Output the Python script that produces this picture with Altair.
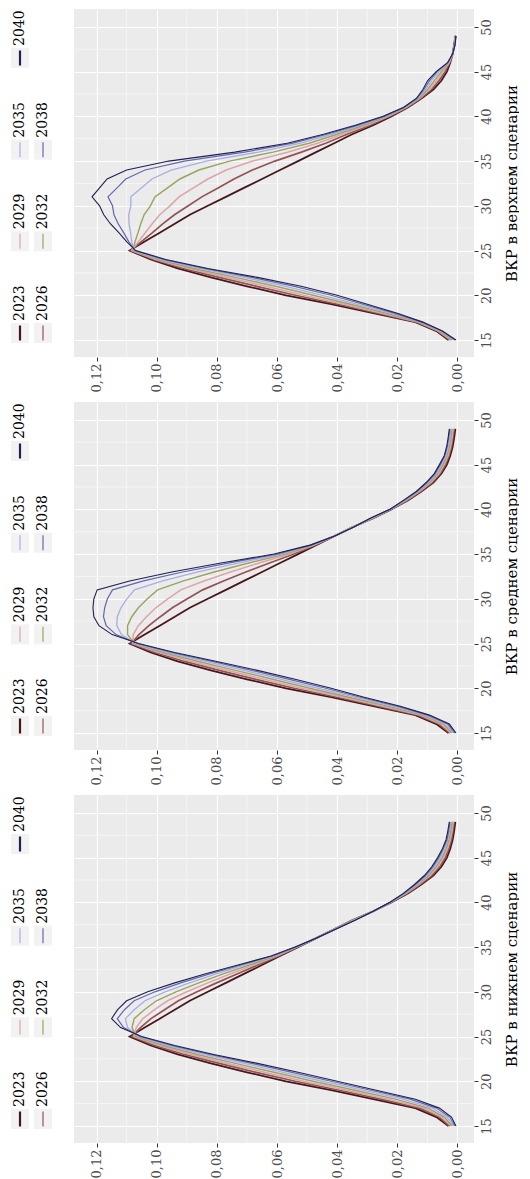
import altair as alt
import pandas as pd

AGES = list(range(15, 50))
YEARS = ["2023", "2026", "2029", "2032", "2035", "2038", "2040"]

BASE_2023 = [0.003, 0.007, 0.014, 0.028, 0.042, 0.057, 0.070, 0.082, 0.093, 0.102, 0.109,
             0.104, 0.099, 0.094, 0.089, 0.083, 0.077, 0.071, 0.065, 0.059, 0.053, 0.047,
             0.041, 0.035, 0.028, 0.022, 0.0165, 0.012, 0.008, 0.0053, 0.0035, 0.0024,
             0.0016, 0.0011, 0.0007]

UP_2026 = [0.0026, 0.0066, 0.0136, 0.0266, 0.0398, 0.0539, 0.0668, 0.0792, 0.0912, 0.1011, 0.1086, 0.1051, 0.1014, 0.0979, 0.0941, 0.0895, 0.0850, 0.0796, 0.0743, 0.0682, 0.0607, 0.0519, 0.0438, 0.0367, 0.0291, 0.0225, 0.0168, 0.0123, 0.0086, 0.0061, 0.0041, 0.0026, 0.0016, 0.0010, 0.0007]
UP_2029 = [0.0021, 0.0063, 0.0131, 0.0252, 0.0378, 0.0511, 0.0637, 0.0766, 0.0895, 0.1003, 0.1083, 0.1061, 0.1038, 0.1015, 0.0990, 0.0956, 0.0926, 0.0878, 0.0830, 0.0769, 0.0681, 0.0565, 0.0465, 0.0383, 0.0301, 0.0229, 0.0170, 0.0126, 0.0092, 0.0069, 0.0048, 0.0027, 0.0016, 0.0010, 0.0006]
UP_2032 = [0.0017, 0.0059, 0.0127, 0.0238, 0.0356, 0.0480, 0.0605, 0.0738, 0.0877, 0.0994, 0.1079, 0.1072, 0.1062, 0.1053, 0.1042, 0.1021, 0.1006, 0.0964, 0.0923, 0.0860, 0.0758, 0.0613, 0.0493, 0.0400, 0.0312, 0.0234, 0.0173, 0.0129, 0.0099, 0.0077, 0.0054, 0.0029, 0.0016, 0.0009, 0.0006]
UP_2035 = [0.0012, 0.0056, 0.0122, 0.0223, 0.0335, 0.0449, 0.0572, 0.0710, 0.0859, 0.0985, 0.1076, 0.1083, 0.1087, 0.1092, 0.1093, 0.1086, 0.1086, 0.1051, 0.1016, 0.0952, 0.0835, 0.0662, 0.0521, 0.0417, 0.0323, 0.0239, 0.0176, 0.0132, 0.0105, 0.0086, 0.0061, 0.0030, 0.0016, 0.0009, 0.0006]
UP_2038 = [0.0008, 0.0052, 0.0118, 0.0210, 0.0314, 0.0420, 0.0542, 0.0684, 0.0842, 0.0976, 0.1072, 0.1093, 0.1110, 0.1128, 0.1142, 0.1147, 0.1162, 0.1132, 0.1103, 0.1039, 0.0908, 0.0708, 0.0547, 0.0434, 0.0333, 0.0244, 0.0178, 0.0135, 0.0111, 0.0093, 0.0067, 0.0032, 0.0016, 0.0008, 0.0005]
UP_2040 = [0.0005, 0.0050, 0.0115, 0.0200, 0.0300, 0.0400, 0.0520, 0.0665, 0.0830, 0.0970, 0.1070, 0.1100, 0.1126, 0.1154, 0.1176, 0.1190, 0.1215, 0.1190, 0.1165, 0.1100, 0.0960, 0.0740, 0.0566, 0.0445, 0.0340, 0.0247, 0.0180, 0.0137, 0.0115, 0.0099, 0.0071, 0.0033, 0.0016, 0.0008, 0.0005]

MID_2026 = [0.0026, 0.0062, 0.0132, 0.0264, 0.0400, 0.0543, 0.0671, 0.0792, 0.0907, 0.1006, 0.1085, 0.1059, 0.1026, 0.0988, 0.0948, 0.0898, 0.0847, 0.0778, 0.0704, 0.0625, 0.0544, 0.0474, 0.0410, 0.0349, 0.0282, 0.0221, 0.0168, 0.0123, 0.0084, 0.0057, 0.0040, 0.0028, 0.0020, 0.0015, 0.0011]
MID_2029 = [0.0021, 0.0055, 0.0124, 0.0249, 0.0382, 0.0518, 0.0644, 0.0766, 0.0885, 0.0992, 0.1080, 0.1078, 0.1061, 0.1034, 0.1003, 0.0963, 0.0920, 0.0843, 0.0755, 0.0659, 0.0558, 0.0477, 0.0410, 0.0349, 0.0284, 0.0222, 0.0170, 0.0126, 0.0088, 0.0061, 0.0044, 0.0031, 0.0023, 0.0018, 0.0014]
MID_2032 = [0.0017, 0.0047, 0.0115, 0.0232, 0.0362, 0.0491, 0.0615, 0.0738, 0.0861, 0.0978, 0.1074, 0.1097, 0.1097, 0.1083, 0.1061, 0.1031, 0.0997, 0.0911, 0.0809, 0.0694, 0.0572, 0.0481, 0.0410, 0.0348, 0.0285, 0.0223, 0.0173, 0.0129, 0.0093, 0.0066, 0.0048, 0.0035, 0.0027, 0.0022, 0.0018]
MID_2035 = [0.0012, 0.0039, 0.0107, 0.0216, 0.0342, 0.0464, 0.0586, 0.0710, 0.0838, 0.0963, 0.1069, 0.1117, 0.1133, 0.1131, 0.1119, 0.1099, 0.1074, 0.0980, 0.0863, 0.0729, 0.0587, 0.0484, 0.0410, 0.0347, 0.0287, 0.0224, 0.0176, 0.0132, 0.0097, 0.0070, 0.0053, 0.0038, 0.0030, 0.0025, 0.0021]
MID_2038 = [0.0008, 0.0032, 0.0099, 0.0201, 0.0323, 0.0438, 0.0559, 0.0684, 0.0816, 0.0950, 0.1064, 0.1135, 0.1168, 0.1177, 0.1173, 0.1164, 0.1147, 0.1044, 0.0914, 0.0762, 0.0600, 0.0488, 0.0410, 0.0346, 0.0289, 0.0224, 0.0178, 0.0135, 0.0101, 0.0074, 0.0057, 0.0042, 0.0034, 0.0029, 0.0025]
MID_2040 = [0.0005, 0.0027, 0.0093, 0.0190, 0.0310, 0.0420, 0.0540, 0.0665, 0.0800, 0.0940, 0.1060, 0.1148, 0.1192, 0.1209, 0.1212, 0.1209, 0.1198, 0.1090, 0.0950, 0.0786, 0.0610, 0.0490, 0.0410, 0.0346, 0.0290, 0.0225, 0.0180, 0.0137, 0.0104, 0.0077, 0.0060, 0.0044, 0.0036, 0.0031, 0.0027]

LOW_2026 = [0.0026, 0.0061, 0.0126, 0.0255, 0.0393, 0.0539, 0.0669, 0.0792, 0.0908, 0.1006, 0.1083, 0.1054, 0.1019, 0.0974, 0.0928, 0.0866, 0.0801, 0.0733, 0.0664, 0.0595, 0.0532, 0.0470, 0.0409, 0.0348, 0.0280, 0.0221, 0.0168, 0.0124, 0.0085, 0.0059, 0.0041, 0.0029, 0.0020, 0.0015, 0.0011]
LOW_2029 = [0.0021, 0.0053, 0.0112, 0.0231, 0.0368, 0.0511, 0.0641, 0.0766, 0.0888, 0.0992, 0.1076, 0.1068, 0.1046, 0.1007, 0.0964, 0.0900, 0.0830, 0.0756, 0.0678, 0.0601, 0.0534, 0.0470, 0.0408, 0.0347, 0.0280, 0.0222, 0.0170, 0.0128, 0.0091, 0.0064, 0.0046, 0.0033, 0.0024, 0.0018, 0.0014]
LOW_2032 = [0.0017, 0.0044, 0.0098, 0.0206, 0.0341, 0.0480, 0.0610, 0.0738, 0.0866, 0.0978, 0.1069, 0.1082, 0.1075, 0.1041, 0.1001, 0.0936, 0.0860, 0.0779, 0.0692, 0.0606, 0.0535, 0.0470, 0.0407, 0.0345, 0.0280, 0.0223, 0.0173, 0.0132, 0.0096, 0.0070, 0.0051, 0.0038, 0.0028, 0.0022, 0.0018]
LOW_2035 = [0.0012, 0.0035, 0.0083, 0.0181, 0.0314, 0.0449, 0.0579, 0.0710, 0.0845, 0.0963, 0.1062, 0.1097, 0.1104, 0.1075, 0.1039, 0.0972, 0.0891, 0.0802, 0.0707, 0.0611, 0.0537, 0.0470, 0.0406, 0.0343, 0.0280, 0.0224, 0.0176, 0.0136, 0.0101, 0.0076, 0.0057, 0.0042, 0.0032, 0.0026, 0.0021]
LOW_2038 = [0.0008, 0.0026, 0.0070, 0.0157, 0.0288, 0.0420, 0.0550, 0.0684, 0.0824, 0.0950, 0.1055, 0.1110, 0.1131, 0.1107, 0.1075, 0.1006, 0.0920, 0.0824, 0.0720, 0.0616, 0.0539, 0.0470, 0.0406, 0.0341, 0.0280, 0.0224, 0.0178, 0.0140, 0.0106, 0.0081, 0.0062, 0.0047, 0.0035, 0.0029, 0.0025]
LOW_2040 = [0.0005, 0.0020, 0.0060, 0.0140, 0.0270, 0.0400, 0.0530, 0.0665, 0.0810, 0.0940, 0.1050, 0.1120, 0.1150, 0.1130, 0.1100, 0.1030, 0.0940, 0.0840, 0.0730, 0.0620, 0.0540, 0.0470, 0.0405, 0.0340, 0.0280, 0.0225, 0.0180, 0.0143, 0.0110, 0.0085, 0.0066, 0.0050, 0.0038, 0.0032, 0.0027]

TITLES = ["ВКР в верхнем сценарии", "ВКР в среднем сценарии", "ВКР в нижнем сценарии"]
X_TICKS = [0.0, 0.02, 0.04, 0.06, 0.08, 0.10, 0.12]
AGE_TICKS = [15, 20, 25, 30, 35, 40, 45, 50]
MINOR_X = [0.01, 0.03, 0.05, 0.07, 0.09, 0.11]
MINOR_AGE = [17.5, 22.5, 27.5, 32.5, 37.5, 42.5, 47.5]
LEGEND_ROW = [0, 1, 0, 1, 0, 1, 0]
LEGEND_SLOT = [0, 0, 1, 1, 2, 2, 3]

COLORS = ["#45171b", "#945252", "#dca6a8", "#9aa45c", "#a9aee3", "#6268b0", "#1f2150"]
WIDTHS = [1.8, 1.1, 1.1, 1.1, 1.1, 1.1, 1.8]
FONT = "DejaVu Serif"

SCENARIOS = [
    [BASE_2023, UP_2026, UP_2029, UP_2032, UP_2035, UP_2038, UP_2040],
    [BASE_2023, MID_2026, MID_2029, MID_2032, MID_2035, MID_2038, MID_2040],
    [BASE_2023, LOW_2026, LOW_2029, LOW_2032, LOW_2035, LOW_2038, LOW_2040],
]

PH = 348


def legend_chart():
    df = pd.DataFrame({"year": YEARS, "row": LEGEND_ROW, "slot": LEGEND_SLOT})
    lx = alt.X("row:Q", scale=alt.Scale(domain=[0, 1], range=[12, 35]), axis=None)
    ly = alt.Y("slot:Q", scale=alt.Scale(domain=[0, 3], range=[324, 49]), axis=None)
    base = alt.Chart(df)
    bg = base.mark_tick(orient="vertical", size=20, thickness=18, color="#f2f2f2", opacity=1).encode(x=lx, y=ly)
    col = alt.Color("year:N", scale=alt.Scale(domain=YEARS, range=COLORS), legend=None)
    thick = base.mark_tick(orient="vertical", size=15, thickness=2.2, opacity=1).encode(
        x=lx, y=ly, color=col).transform_filter(alt.FieldOneOfPredicate(field="year", oneOf=["2023", "2040"]))
    thin = base.mark_tick(orient="vertical", size=15, thickness=1.2, opacity=1).encode(
        x=lx, y=ly, color=col).transform_filter(alt.FieldOneOfPredicate(field="year", oneOf=["2026", "2029", "2032", "2035", "2038"]))
    txt = base.mark_text(angle=270, align="left", baseline="middle", dx=12, font=FONT,
                         fontSize=14, color="black").encode(x=lx, y=ly, text="year:N")
    return alt.layer(bg, thick, thin, txt).properties(
        width=50, height=PH, view=alt.ViewBackground(stroke=None, fill=None))


def panel(series, title):
    rows = []
    for yr, vals in zip(YEARS, series):
        for a, v in zip(AGES, vals):
            rows.append({"year": yr, "age": a, "value": v})
    df = pd.DataFrame(rows)
    xscale = alt.Scale(domain=[-0.0055, 0.1275], reverse=True, nice=False, zero=False)
    yscale = alt.Scale(domain=[13.1, 52.0], nice=False, zero=False)
    x_axis = alt.Axis(
        values=X_TICKS, labelExpr="replace(format(datum.value, '.2f'), '.', ',')",
        labelAngle=270, labelAlign="right", labelBaseline="middle",
        grid=True, gridColor="white", gridWidth=1.1, domain=False, ticks=True,
        tickSize=4, tickColor="#333333", labelPadding=2, labelFontSize=13,
        labelColor="#4d4d4d", labelFont=FONT, title=None)
    y_axis = alt.Axis(
        orient="right", values=AGE_TICKS, labelAngle=270, labelAlign="center",
        labelBaseline="top", grid=True, gridColor="white", gridWidth=1.1, domain=False,
        tickSize=4, tickColor="#333333", labelPadding=2, labelFontSize=13,
        labelColor="#4d4d4d", labelFont=FONT, title=title, titleAngle=270,
        titleBaseline="top", titleAlign="center",
        titleFont=FONT, titleFontSize=15, titleFontWeight="normal", titleColor="black",
        titlePadding=11)
    minor_x = alt.Chart(pd.DataFrame({"v": MINOR_X})).mark_rule(color="white", strokeWidth=0.5).encode(
        x=alt.X("v:Q", scale=xscale, axis=x_axis))
    minor_y = alt.Chart(pd.DataFrame({"a": MINOR_AGE})).mark_rule(color="white", strokeWidth=0.5).encode(
        y=alt.Y("a:Q", scale=yscale, axis=y_axis))
    lines = alt.Chart(df).mark_line().encode(
        x=alt.X("value:Q", scale=xscale, axis=x_axis),
        y=alt.Y("age:Q", scale=yscale, axis=y_axis),
        color=alt.Color("year:N", scale=alt.Scale(domain=YEARS, range=COLORS), legend=None),
        strokeWidth=alt.StrokeWidth("year:N", scale=alt.Scale(domain=YEARS, range=WIDTHS), legend=None),
        order=alt.Order("age:Q"),
    )
    return alt.layer(minor_x, minor_y, lines).properties(
        width=400, height=PH, view=alt.ViewBackground(fill="#ebebeb", stroke=None))


rows = []
for series, title in zip(SCENARIOS, TITLES):
    rows.append(alt.hconcat(legend_chart(), panel(series, title), spacing=15))

chart = alt.vconcat(*rows, spacing=9).properties(
    padding={"left": 0, "top": 0, "right": 0, "bottom": 0}
).configure_view(stroke=None)

chart.save("out.html", embed_options={"renderer": "svg", "actions": False})
